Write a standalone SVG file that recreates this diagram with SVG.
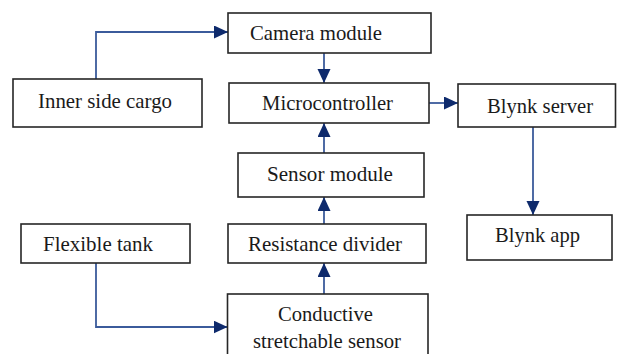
<svg xmlns="http://www.w3.org/2000/svg" width="617" height="354" viewBox="0 0 617 354">
  <style>
    .box { fill: #ffffff; stroke: #262626; stroke-width: 1.6; }
    .lbl { font-family: "Liberation Serif", "Times New Roman", serif; font-size: 22px; fill: #1a1a1a; }
    .wire { fill: none; stroke: #3b5b9b; stroke-width: 1.8; }
  </style>
  <defs>
    <marker id="head" markerUnits="userSpaceOnUse" markerWidth="16" markerHeight="14" refX="14" refY="6.5" orient="auto">
      <path d="M0,0 L14,6.5 L0,13 Z" fill="#0e2a6c"/>
    </marker>
  </defs>
  <rect width="617" height="354" fill="#ffffff"/>

  <g id="connectors">
    <path class="wire" d="M96,79 V32 H228" marker-end="url(#head)"/>
    <path class="wire" d="M324,53 V83" marker-end="url(#head)"/>
    <path class="wire" d="M429,103 H458" marker-end="url(#head)"/>
    <path class="wire" d="M324,153 V123" marker-end="url(#head)"/>
    <path class="wire" d="M324,224 V197" marker-end="url(#head)"/>
    <path class="wire" d="M324,294 V263" marker-end="url(#head)"/>
    <path class="wire" d="M533,127 V215" marker-end="url(#head)"/>
    <path class="wire" d="M96,263 V327 H227.5" marker-end="url(#head)"/>
  </g>

  <g id="camera-module">
    <rect class="box" x="228" y="13" width="203" height="40"/>
    <text class="lbl" x="250" y="40" textLength="132" lengthAdjust="spacingAndGlyphs">Camera module</text>
  </g>
  <g id="inner-side-cargo">
    <rect class="box" x="13" y="79" width="189" height="48"/>
    <text class="lbl" x="38" y="108" textLength="134" lengthAdjust="spacingAndGlyphs">Inner side cargo</text>
  </g>
  <g id="microcontroller">
    <rect class="box" x="229" y="83" width="200" height="40"/>
    <text class="lbl" x="262" y="110" textLength="131" lengthAdjust="spacingAndGlyphs">Microcontroller</text>
  </g>
  <g id="blynk-server">
    <rect class="box" x="458" y="84" width="157.5" height="43"/>
    <text class="lbl" x="487" y="113" textLength="106" lengthAdjust="spacingAndGlyphs">Blynk server</text>
  </g>
  <g id="sensor-module">
    <rect class="box" x="238" y="153" width="186" height="44"/>
    <text class="lbl" x="267" y="181" textLength="126" lengthAdjust="spacingAndGlyphs">Sensor module</text>
  </g>
  <g id="flexible-tank">
    <rect class="box" x="21" y="224" width="169" height="39"/>
    <text class="lbl" x="43" y="251" textLength="110" lengthAdjust="spacingAndGlyphs">Flexible tank</text>
  </g>
  <g id="resistance-divider">
    <rect class="box" x="228" y="224" width="198" height="39"/>
    <text class="lbl" x="248" y="251" textLength="154" lengthAdjust="spacingAndGlyphs">Resistance divider</text>
  </g>
  <g id="blynk-app">
    <rect class="box" x="467" y="215" width="145" height="45"/>
    <text class="lbl" x="495" y="242" textLength="85" lengthAdjust="spacingAndGlyphs">Blynk app</text>
  </g>
  <g id="conductive-stretchable-sensor">
    <rect class="box" x="227.5" y="294" width="200.5" height="70"/>
    <text class="lbl" x="278" y="321" textLength="95" lengthAdjust="spacingAndGlyphs">Conductive</text>
    <text class="lbl" x="253" y="348" textLength="148" lengthAdjust="spacingAndGlyphs">stretchable sensor</text>
  </g>
</svg>
